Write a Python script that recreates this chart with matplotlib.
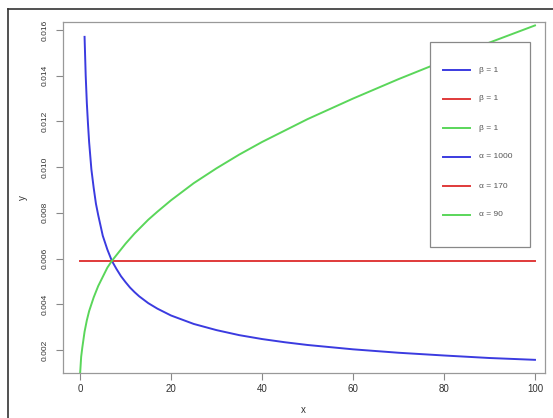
import matplotlib
matplotlib.use("Agg")
import matplotlib.pyplot as plt
from matplotlib.lines import Line2D
from matplotlib.patches import Rectangle

plt.rcParams['font.family'] = ['Liberation Sans', 'DejaVu Sans']

# data
blue_x = [1, 1.25, 1.5, 1.75, 2, 2.5, 3, 3.5, 4, 5, 6, 7, 8, 9, 10, 11, 12, 13, 15, 17, 20, 25,
          30, 35, 40, 45, 50, 60, 70, 80, 90, 100]
blue_y = [0.0157, 0.0140, 0.0128, 0.0119, 0.0111, 0.0099, 0.0091, 0.0084, 0.0079, 0.0070, 0.0064,
          0.0059, 0.00555, 0.00523, 0.00497, 0.00473, 0.00453, 0.00435, 0.00405, 0.00381, 0.00351,
          0.00314, 0.00287, 0.00265, 0.00248, 0.00234, 0.00222, 0.00203, 0.00188, 0.00176,
          0.00165, 0.00157]
red_x = [0, 100]
red_y = [0.0059, 0.0059]
green_x = [0, 0.25, 0.5, 1, 1.5, 2, 3, 4, 5, 6, 7, 8, 10, 12, 15, 17, 20, 25, 30, 35, 40, 50,
           60, 70, 80, 90, 100]
green_y = [0.0009, 0.0017, 0.0021, 0.0028, 0.0033, 0.0037, 0.0043, 0.0048, 0.0052, 0.0056, 0.0059,
           0.00615, 0.00665, 0.0071, 0.0077, 0.00805, 0.00855, 0.0093, 0.00995, 0.01055, 0.0111,
           0.0121, 0.0130, 0.01385, 0.01465, 0.01545, 0.0162]
legend_labels = ['β = 1', 'β = 1', 'β = 1', 'α = 1000', 'α = 170', 'α = 90']
x_ticks = [0, 20, 40, 60, 80, 100]
y_ticks = [0.002, 0.004, 0.006, 0.008, 0.010, 0.012, 0.014, 0.016]

W, H = 553, 418
fig = plt.figure(figsize=(W / 100, H / 100), dpi=100)
fig.patch.set_facecolor('white')

L, R, T, B = 62.5, 545, 22, 373
ax = fig.add_axes([L / W, 1 - B / H, (R - L) / W, (B - T) / H])

c_blue, c_red, c_green = '#3b3be0', '#e03a3a', '#5ad65a'
ax.plot(blue_x, blue_y, color=c_blue, lw=1.4)
ax.plot(red_x, red_y, color=c_red, lw=1.4)
ax.plot(green_x, green_y, color=c_green, lw=1.4)

ax.set_xlim(-3.85, 102.2)
ax.set_ylim(0.000994, 0.01635)
ax.set_xticks(x_ticks)
ax.set_xticklabels([str(v) for v in x_ticks], fontsize=7, color='#333333')
ax.set_yticks(y_ticks)
ax.set_yticklabels([f'{v:.3f}' for v in y_ticks], fontsize=6, color='#333333',
                   rotation=90, va='center')
ax.tick_params(direction='out', length=5, width=0.8, color='#888888', pad=3)
ax.tick_params(axis='y', pad=5)
for s in ax.spines.values():
    s.set_color('#999999')
    s.set_linewidth(0.9)

ax.set_xlabel('x', fontsize=7, color='#333333', labelpad=8)
ax.set_ylabel('y', fontsize=7, color='#333333', labelpad=10)

# legend drawn in figure pixel coordinates
def fx(px):
    return px / W

def fy(py):
    return 1 - py / H

fig.add_artist(Rectangle((fx(430), fy(247)), fx(530) - fx(430), fy(42) - fy(247),
                         transform=fig.transFigure, facecolor='white', edgecolor='#888888',
                         lw=0.9, zorder=5))
colors = [c_blue, c_red, c_green, c_blue, c_red, c_green]
for i, (lab, c) in enumerate(zip(legend_labels, colors)):
    yy = 70 + i * 29
    fig.add_artist(Line2D([fx(443), fx(470)], [fy(yy), fy(yy)], transform=fig.transFigure,
                          color=c, lw=1.4, zorder=6))
    fig.text(fx(479), fy(yy), lab, fontsize=6, color='#555555', va='center', ha='left', zorder=6)

# outer screenshot frame (top and left edges)
fig.add_artist(Line2D([8 / W, 8 / W], [0, 1 - 9 / H], transform=fig.transFigure, color='#333333', lw=1.2))
fig.add_artist(Line2D([8 / W, 1], [1 - 9 / H, 1 - 9 / H], transform=fig.transFigure, color='#333333', lw=1.2))

fig.savefig('out.png', dpi=100)
